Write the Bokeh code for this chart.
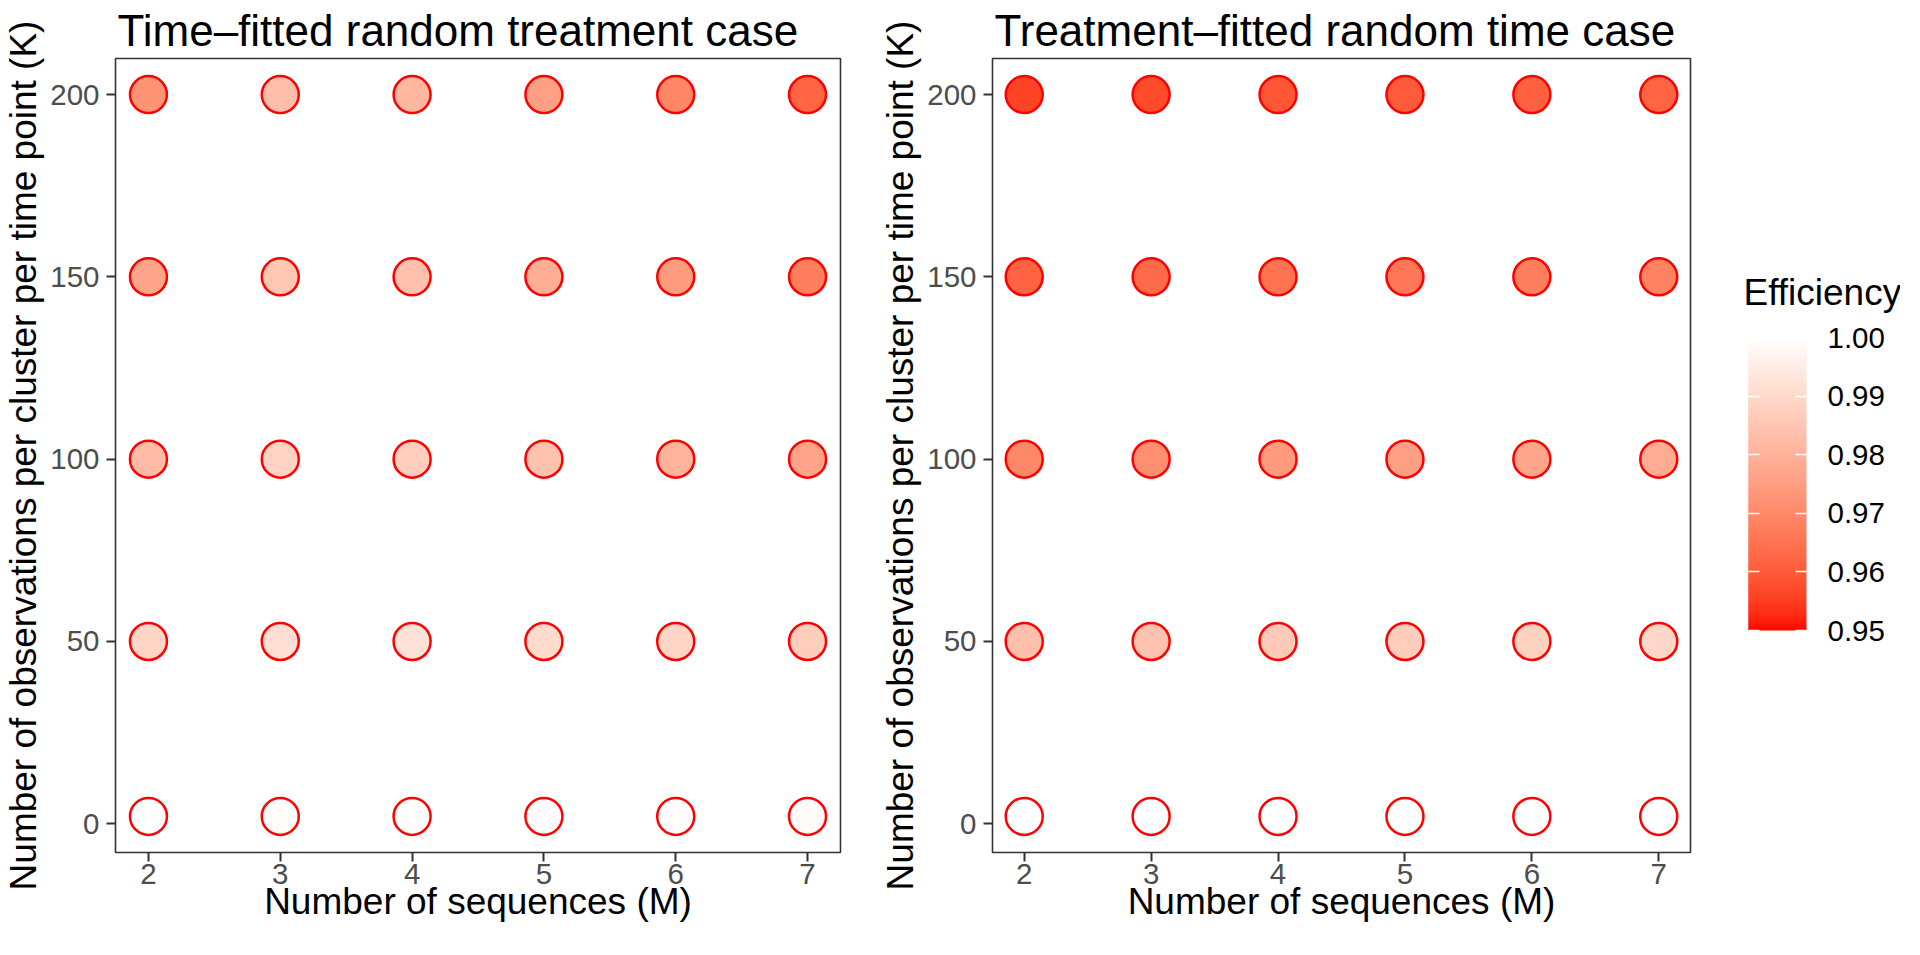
import numpy as np
from bokeh.plotting import figure
from bokeh.models import (ColumnDataSource, LinearColorMapper, ColorBar, FixedTicker,
                          Range1d, PrintfTickFormatter, Label)
from bokeh.layouts import row
from bokeh.transform import transform
from bokeh.embed import file_html
from bokeh.resources import INLINE

# ---------------- data ----------------
M_values = [2, 3, 4, 5, 6, 7]
K_values = [2, 50, 100, 150, 200]

# Time-fitted random treatment case (rows = K, cols = M)
time_fitted_K2 = [0.9998, 0.9993, 0.9993, 0.9992, 0.9992, 0.9990]
time_fitted_K50 = [0.9890, 0.9915, 0.9923, 0.9905, 0.9890, 0.9870]
time_fitted_K100 = [0.9823, 0.9883, 0.9873, 0.9841, 0.9804, 0.9764]
time_fitted_K150 = [0.9764, 0.9853, 0.9838, 0.9789, 0.9744, 0.9675]
time_fitted_K200 = [0.9724, 0.9831, 0.9813, 0.9754, 0.9694, 0.9618]

# Treatment-fitted random time case
treat_fitted_K2 = [1.0000, 1.0000, 1.0000, 1.0000, 1.0000, 1.0000]
treat_fitted_K50 = [0.9833, 0.9843, 0.9858, 0.9868, 0.9878, 0.9893]
treat_fitted_K100 = [0.9697, 0.9714, 0.9739, 0.9754, 0.9769, 0.9784]
treat_fitted_K150 = [0.9616, 0.9630, 0.9650, 0.9660, 0.9675, 0.9685]
treat_fitted_K200 = [0.9560, 0.9570, 0.9590, 0.9600, 0.9610, 0.9618]

legend_ticks = [0.95, 0.96, 0.97, 0.98, 0.99, 1.0]
x_ticks = [2, 3, 4, 5, 6, 7]
y_ticks = [0, 50, 100, 150, 200]

titles = ["Time\u2013fitted random treatment case", "Treatment\u2013fitted random time case"]
x_title = "Number of sequences (M)"
y_title = "Number of observations per cluster per time point (K)"
legend_title = "Efficiency"

# ---------------- colour scale (Lab interpolation red -> white) ----------------
def srgb_to_lab(rgb):
    c = np.array(rgb) / 255.0
    c = np.where(c > 0.04045, ((c + 0.055) / 1.055) ** 2.4, c / 12.92)
    M = np.array([[0.4124, 0.3576, 0.1805], [0.2126, 0.7152, 0.0722], [0.0193, 0.1192, 0.9505]])
    X, Y, Z = M @ c
    X /= 0.95047; Z /= 1.08883
    f = lambda t: t ** (1 / 3) if t > 0.008856 else 7.787 * t + 16 / 116
    fx, fy, fz = f(X), f(Y), f(Z)
    return 116 * fy - 16, 500 * (fx - fy), 200 * (fy - fz)

def lab_to_hex(L, a, b):
    fy = (L + 16) / 116; fx = fy + a / 500; fz = fy - b / 200
    finv = lambda t: t ** 3 if t ** 3 > 0.008856 else (t - 16 / 116) / 7.787
    X, Y, Z = 0.95047 * finv(fx), finv(fy), 1.08883 * finv(fz)
    Minv = np.array([[3.2406, -1.5372, -0.4986], [-0.9689, 1.8758, 0.0415], [0.0557, -0.2040, 1.0570]])
    lin = Minv @ np.array([X, Y, Z])
    lin = np.clip(lin, 0, 1)
    s = np.where(lin > 0.0031308, 1.055 * lin ** (1 / 2.4) - 0.055, 12.92 * lin)
    r, g, bb = [int(round(v * 255)) for v in np.clip(s, 0, 1)]
    return "#%02x%02x%02x" % (r, g, bb)

lab_lo = np.array(srgb_to_lab((255, 0, 0)))
lab_hi = np.array(srgb_to_lab((255, 255, 255)))
palette = [lab_to_hex(*(lab_lo + (lab_hi - lab_lo) * t)) for t in np.linspace(0, 1, 256)]
mapper = LinearColorMapper(palette=palette, low=0.95, high=1.0)

FONT = "Liberation Sans"
FIG_H = 932
TOP, BOTTOM = 56, 80
FRAME_H = FIG_H - TOP - BOTTOM

def make_fig(title, rows, width, bl, br):
    p = figure(width=width, height=FIG_H, output_backend="svg", toolbar_location=None,
               x_range=Range1d(1.75, 7.25), y_range=Range1d(-7.9, 209.9),
               min_border_left=bl, min_border_right=br, min_border_top=TOP, min_border_bottom=BOTTOM,
               title=title)
    xs, ys, es = [], [], []
    for k, vals in zip(K_values, rows):
        for m, e in zip(M_values, vals):
            xs.append(m); ys.append(k); es.append(e)
    src = ColumnDataSource(dict(M=xs, K=ys, eff=es))
    p.scatter("M", "K", source=src, size=37, fill_color=transform("eff", mapper),
              fill_alpha=1.0, line_color="#FF0000", line_width=2.5)
    p.grid.visible = False
    p.outline_line_color = "#333333"
    p.outline_line_width = 1.6
    p.background_fill_color = "white"
    p.border_fill_color = "white"
    p.title.text_font = FONT
    p.title.text_font_size = "44px"
    p.title.text_font_style = "normal"
    p.title.text_color = "black"
    p.title.align = "left"
    p.title.offset = 2
    p.title.standoff = 7
    p.xaxis.ticker = FixedTicker(ticks=x_ticks)
    p.yaxis.ticker = FixedTicker(ticks=y_ticks)
    for ax in (p.xaxis[0], p.yaxis[0]):
        ax.axis_line_color = None
        ax.major_tick_line_color = "#333333"
        ax.major_tick_line_width = 2
        ax.major_tick_out = 9
        ax.major_tick_in = 0
        ax.minor_tick_line_color = None
        ax.major_label_text_font = FONT
        ax.major_label_text_font_size = "29.5px"
        ax.major_label_text_color = "#4D4D4D"
        ax.axis_label_text_font = FONT
        ax.axis_label_text_font_size = "37px"
        ax.axis_label_text_font_style = "normal"
        ax.axis_label_text_color = "black"
    p.xaxis.axis_label = x_title
    p.yaxis.axis_label = y_title
    p.xaxis.major_label_standoff = 2
    p.xaxis.axis_label_standoff = -6
    p.yaxis.major_label_standoff = 7
    p.yaxis.axis_label_standoff = 3
    return p

p1 = make_fig(titles[0], [time_fitted_K2, time_fitted_K50, time_fitted_K100, time_fitted_K150, time_fitted_K200],
              866, 110, 26)
p2 = make_fig(titles[1], [treat_fitted_K2, treat_fitted_K50, treat_fitted_K100, treat_fitted_K150, treat_fitted_K200],
              834, 126, 10)

# legend panel (colour bar + its title); its frame is aligned with the panels' frames
LEG_W = 200
p3 = figure(width=LEG_W, height=FIG_H, output_backend="svg", toolbar_location=None,
            x_range=Range1d(0, LEG_W), y_range=Range1d(0, FRAME_H),
            x_axis_location=None, y_axis_location=None,
            min_border_left=0, min_border_right=0, min_border_top=TOP, min_border_bottom=BOTTOM)
p3.grid.visible = False
p3.outline_line_color = None
p3.background_fill_color = "white"
p3.border_fill_color = "white"

def colorbar(width, show_labels):
    return ColorBar(color_mapper=mapper, width=width, height=293,
                    ticker=FixedTicker(ticks=legend_ticks),
                    formatter=PrintfTickFormatter(format="%.2f"),
                    major_label_text_font=FONT, major_label_text_font_size="29.5px",
                    major_label_text_color="black" if show_labels else None,
                    label_standoff=21,
                    major_tick_line_color="white", major_tick_line_width=1.5,
                    major_tick_in=11, major_tick_out=0,
                    minor_tick_line_color=None, bar_line_color=None,
                    border_line_color=None, background_fill_color=None,
                    padding=0, margin=0, location=(48, 222))

# main bar (ticks on its right edge) + a narrow overlay giving the left-edge ticks
p3.add_layout(colorbar(58, True), "center")
p3.add_layout(colorbar(11, False), "center")

eff_title = Label(x=43, y=560, x_units="screen", y_units="screen", text=legend_title,
                  text_font=FONT, text_font_size="37px", text_color="black",
                  text_baseline="middle", text_align="left")
p3.add_layout(eff_title)

layout = row(p1, p2, p3)
open("out.html", "w").write(file_html(layout, INLINE))
